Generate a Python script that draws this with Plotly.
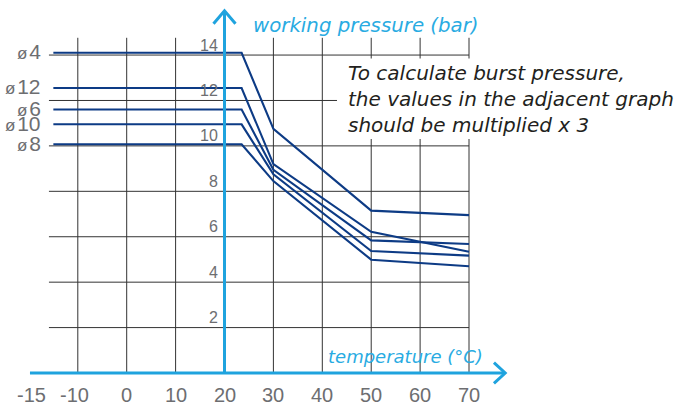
import plotly.graph_objects as go

# ---------------- data ----------------
temps = [-15, 23.5, 30, 50, 70]
series_names = ["ø4", "ø12", "ø6", "ø10", "ø8"]
p_d4 = [14.1, 14.1, 10.75, 7.15, 6.95]
p_d12 = [12.55, 12.55, 9.2, 6.22, 5.34]
p_d6 = [11.6, 11.6, 8.95, 5.84, 5.68]
p_d10 = [10.95, 10.95, 8.75, 5.37, 5.17]
p_d8 = [10.07, 10.07, 8.45, 4.99, 4.70]
series_values = [p_d4, p_d12, p_d6, p_d10, p_d8]

x_ticks = [-15, -10, 0, 10, 20, 30, 40, 50, 60, 70]
x_tick_labels = ["-15", "-10", "0", "10", "20", "30", "40", "50", "60", "70"]
y_ticks = [2, 4, 6, 8, 10, 12, 14]
y_tick_labels = ["2", "4", "6", "8", "10", "12", "14"]
x_grid = [-10, 0, 10, 30, 40, 50, 60, 70]

note_lines = ["To calculate burst pressure,",
              "the values in the adjacent graph",
              "should be multiplied x 3"]

# ---------------- style ----------------
W, H = 674, 407
X_RANGE = [-25.91, 111.92]
Y_RANGE = [-1.497, 16.424]
FONT = "Liberation Sans"
FONT_IT = "DejaVu Sans"
NAVY = "#0d3b85"
BLUE = "#1fa3de"
BLUE_TXT = "#29abe2"
GRAY_TXT = "#6d6e71"
GRID = "#333333"

fig = go.Figure()

for name, vals in zip(series_names, series_values):
    fig.add_trace(go.Scatter(x=temps, y=vals, mode="lines", name=name,
                             line=dict(color=NAVY, width=2.1),
                             hoverinfo="skip", showlegend=False))

shapes = []
grid_left = -15.9
grid_right = 70
grid_top = 14.76
for v in y_ticks:
    shapes.append(dict(type="line", xref="x", yref="y", x0=grid_left, x1=grid_right,
                       y0=v, y1=v, line=dict(color=GRID, width=1), layer="below"))
for t in x_grid:
    shapes.append(dict(type="line", xref="x", yref="y", x0=t, x1=t, y0=0, y1=grid_top,
                       line=dict(color=GRID, width=1), layer="below"))
# white panel behind the note text (hides gridlines there)
shapes.append(dict(type="rect", xref="x", yref="y", x0=43.0, x1=112, y0=10.3, y1=13.85,
                   fillcolor="white", line=dict(width=0), layer="below"))
# blue axes
shapes.append(dict(type="line", xref="x", yref="y", x0=20, x1=20, y0=0, y1=15.9,
                   line=dict(color=BLUE, width=3)))
shapes.append(dict(type="line", xref="x", yref="y", x0=-19.78, x1=77.3, y0=0, y1=0,
                   line=dict(color=BLUE, width=3)))
shapes.append(dict(type="path", xref="x", yref="y",
                   path="M 17.75,15.38 L 20,15.95 L 22.25,15.38",
                   line=dict(color=BLUE, width=3)))
shapes.append(dict(type="path", xref="x", yref="y",
                   path="M 75.1,0.454 L 77.4,0 L 75.1,-0.454",
                   line=dict(color=BLUE, width=3)))

annotations = []
for v, lab in zip(y_ticks, y_tick_labels):
    annotations.append(dict(x=20, y=v, xref="x", yref="y", text=lab, showarrow=False,
                            xanchor="right", yanchor="middle", xshift=-5, yshift=10,
                            font=dict(family=FONT, size=16, color=GRAY_TXT)))
x_shifts = {"-15": -22, "-10": -3}
for t, lab in zip(x_ticks, x_tick_labels):
    annotations.append(dict(x=t, y=0, xref="x", yref="y", text=lab, showarrow=False,
                            xanchor="center", yanchor="middle", yshift=-22,
                            xshift=x_shifts.get(lab, 0),
                            font=dict(family=FONT, size=20, color=GRAY_TXT)))
for name, vals in zip(series_names, series_values):
    label = "<span style='font-size:17px'>ø</span>\u200a" + name[1:]
    annotations.append(dict(x=-17.1, y=vals[0], xref="x", yref="y", text=label,
                            showarrow=False, xanchor="right", yanchor="middle", yshift=1,
                            font=dict(family=FONT, size=21, color=GRAY_TXT)))
annotations.append(dict(x=20, y=15.9, xref="x", yref="y", text="<i>working pressure (bar)</i>",
                        showarrow=False, xanchor="left", yanchor="middle", xshift=26, yshift=-14,
                        font=dict(family=FONT_IT, size=19.8, color=BLUE_TXT)))
annotations.append(dict(x=77.4, y=0, xref="x", yref="y", text="<i>temperature (°C)</i>",
                        showarrow=False, xanchor="right", yanchor="middle", xshift=-20, yshift=17,
                        font=dict(family=FONT_IT, size=18, color=BLUE_TXT)))
annotations.append(dict(x=44.85, y=(373 - 99) / 22.69, xref="x", yref="y",
                        text="<i>" + "<br>".join(note_lines) + "</i>",
                        showarrow=False, xanchor="left", yanchor="middle", align="left",
                        font=dict(family=FONT_IT, size=20, color="#231f20")))

fig.update_layout(
    width=W, height=H, autosize=False,
    margin=dict(l=0, r=0, t=0, b=0, pad=0),
    paper_bgcolor="white", plot_bgcolor="white",
    xaxis=dict(range=X_RANGE, visible=False, fixedrange=True),
    yaxis=dict(range=Y_RANGE, visible=False, fixedrange=True),
    shapes=shapes, annotations=annotations, showlegend=False,
)

fig.write_html("out.html", config={"displayModeBar": False},
               post_script="document.body.style.margin='0';document.body.style.overflow='hidden';")
